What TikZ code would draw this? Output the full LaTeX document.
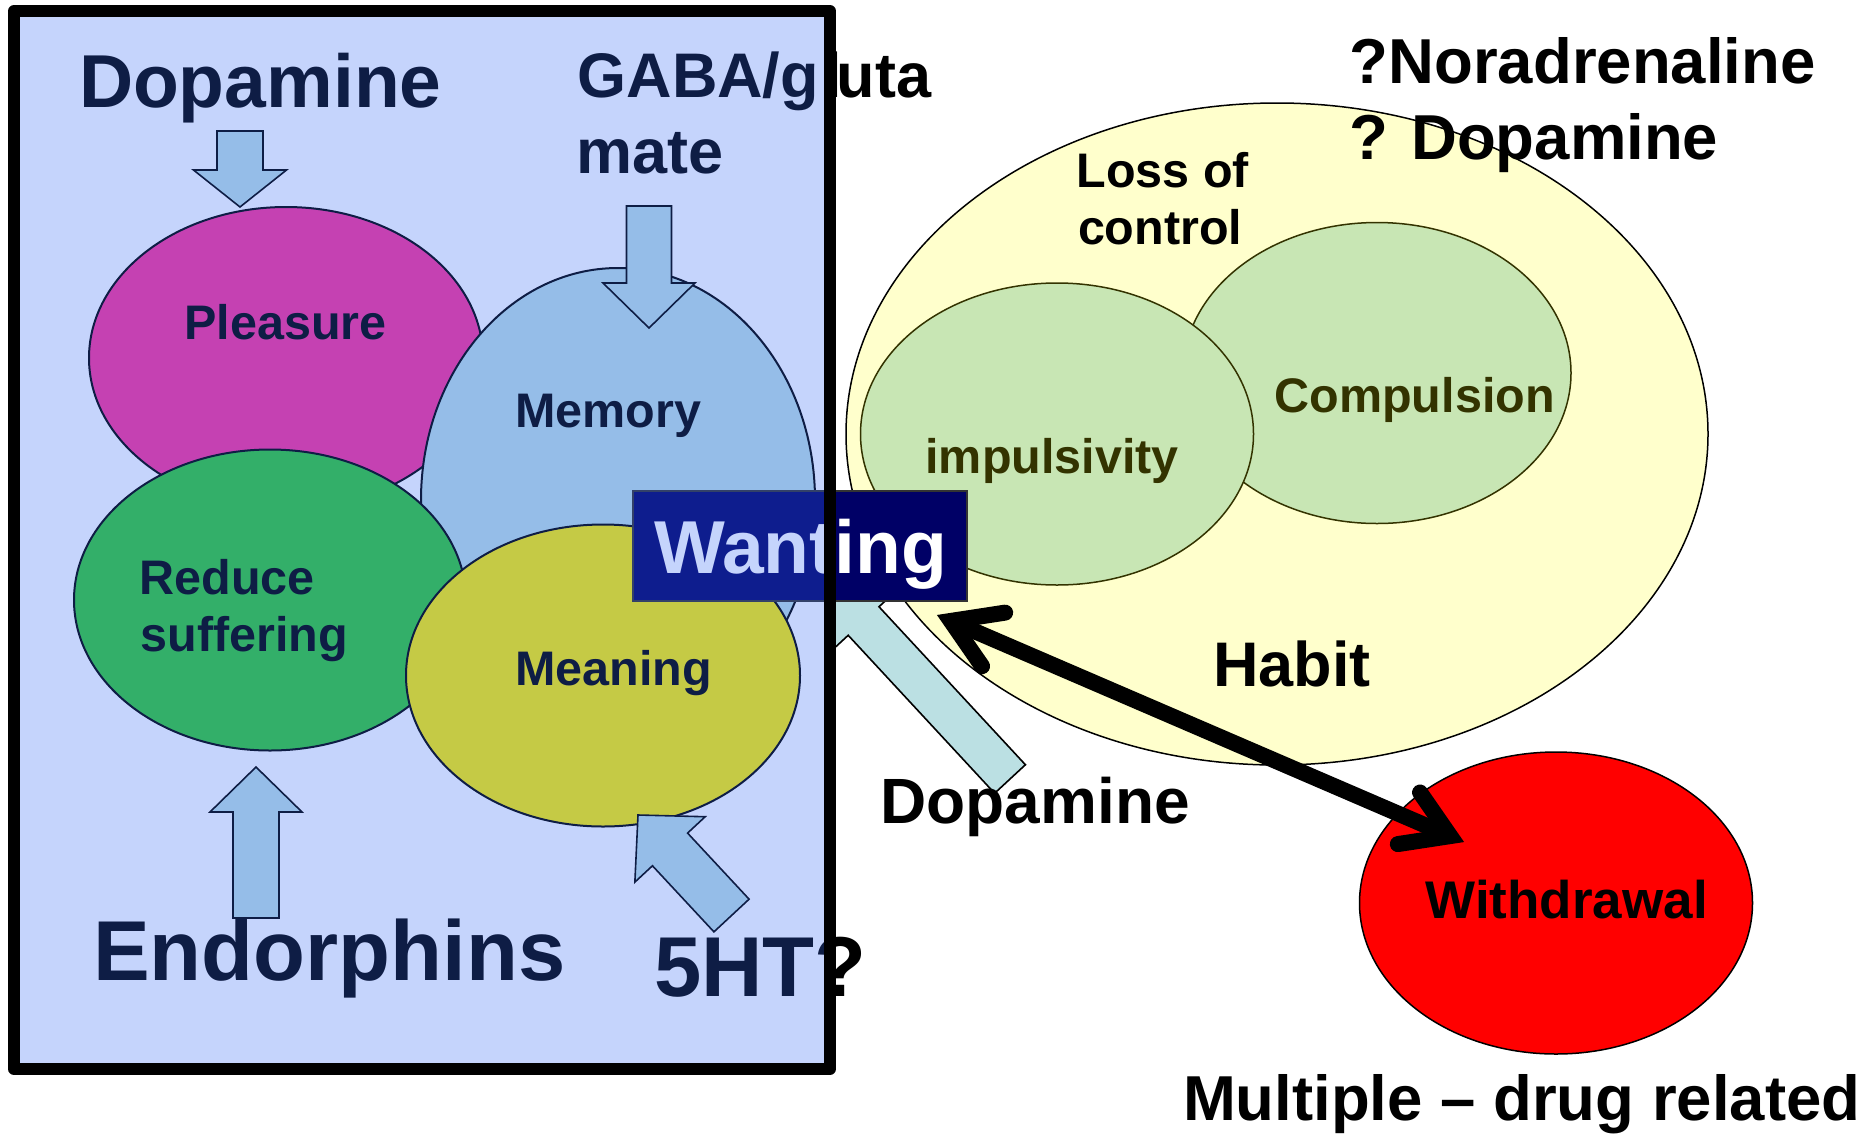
\documentclass[tikz,border=0pt]{standalone}
\usepackage{fontspec}
\setmainfont{Liberation Sans}
\usetikzlibrary{shapes.geometric,calc}

\definecolor{tintblue}{RGB}{53,103,245}
\definecolor{petal}{RGB}{255,51,153}
\definecolor{skycyan}{RGB}{187,224,227}
\definecolor{leafgreen}{RGB}{51,204,51}
\definecolor{cream}{RGB}{255,255,204}
\definecolor{mint}{RGB}{200,230,180}
\definecolor{olive}{RGB}{51,51,0}
\definecolor{deepnavy}{RGB}{0,0,102}

\tikzset{
  blob/.style={ellipse, draw=black, line width=2pt, inner sep=0pt, outer sep=0pt,
               minimum width=394pt, minimum height=302pt},
  blockarr/.style={fill=skycyan, draw=black, line width=1.6pt, line join=miter},
  txt/.style={inner sep=0pt, outer sep=0pt, anchor=base west,
              font=\bfseries\fontsize{#1}{#1}\selectfont},
  barb/.style={line width=16pt, line cap=round, line join=miter, miter limit=20},
}

% block arrow: tail centre, tip, half shaft width, half head width, head length
\newcommand{\blkarrow}[5]{%
  \coordinate (blkB) at ($(#2)!#5pt!(#1)$);
  \filldraw[blockarr] ($(#1)!#3pt!90:(#2)$) -- ($(blkB)!#3pt!90:(#2)$)
    -- ($(blkB)!#4pt!90:(#2)$) -- (#2) -- ($(blkB)!#4pt!-90:(#2)$)
    -- ($(blkB)!#3pt!-90:(#2)$) -- ($(#1)!#3pt!-90:(#2)$) -- cycle;}

\begin{document}
\begin{tikzpicture}[x=1pt,y=-1pt]
\fill[white] (0,0) rectangle (1873,1133);
\useasboundingbox (0,0) rectangle (1873,1133);

% habit cluster
\node[blob, fill=cream, line width=1.5pt, minimum width=862pt, minimum height=662pt] (habit) at (1277,434) {};
\node[blob, fill=mint, draw=olive, line width=1.5pt, minimum width=388pt, minimum height=301pt] (compulsion) at (1377,373) {};
\node[blob, fill=mint, draw=olive, line width=1.5pt, minimum width=393pt, minimum height=302pt] (impulsivity) at (1057,434) {};
\node[blob, fill=red, line width=1.5pt, minimum width=393pt, minimum height=302pt] (withdrawal) at (1556,903) {};

% reward cluster
\node[blob, fill=petal] (pleasure) at (286,358) {};
\node[blob, fill=skycyan, minimum height=464pt] (memory) at (618,500) {};
\node[blob, fill=leafgreen, minimum width=392pt, minimum height=301pt] (reduce) at (270,600) {};
\node[blob, fill=yellow] (meaning) at (603,675.5) {};

% transmitter arrows
\blkarrow{240,131}{240,207}{23}{46.5}{37}
\blkarrow{649,206}{649,328}{22.5}{46}{45}
\blkarrow{256,918}{256,767}{23}{46}{45}
\blkarrow{731.5,915.5}{638,815}{24}{48}{47}
\blkarrow{1010,779}{833,588}{21}{40}{45}

% wanting box
\node[draw=black!80, line width=1.5pt, fill=deepnavy, minimum width=334pt, minimum height=110pt,
      inner sep=0pt, outer sep=0pt] (wanting) at (800,546) {};
\node[txt=75, text=white] (wantingT) at (654,573) {Wanting};

% labels
\node[txt=75] (dopaL) at (79,107) {Dopamine};
\node[txt=63] (gaba1) at (577.5,97) {GABA/g\kern6pt l\kern-6pt uta};
\node[txt=63] (gaba2) at (576.5,173) {mate};
\node[txt=48.5] (pleasureT) at (184.5,339) {Pleasure};
\node[txt=48.5] (memoryT) at (515.5,427.5) {Memory};
\node[txt=48.5] (reduceT1) at (139.5,594.5) {Reduce};
\node[txt=48.5] (reduceT2) at (140.5,651.5) {suffering};
\node[txt=48.5] (meaningT) at (515.5,685) {Meaning};
\node[txt=85] (endo) at (93,980) {Endorphins};
\node[txt=85] (sert) at (654.2,996) {5HT?};

\node[txt=48.5] (loss1) at (1076.5,187) {Loss of};
\node[txt=48.5] (loss2) at (1078,244) {control};
\node[txt=48.5, text=olive] (compT) at (1274.5,412) {Compulsion};
\node[txt=48.5, text=olive] (impT) at (925.5,473) {impulsivity};
\node[txt=63] (habitT) at (1213,686) {Habit};
\node[txt=63.5] (nora) at (1349.8,83) {?Noradrenaline};
\node[txt=63.5] (dopaQ) at (1349,159) {? Dopamine};
\node[txt=64] (dopaR) at (880.5,823.5) {Dopamine};
\node[txt=53] (withT) at (1425.5,918.6) {Withdrawal};
\node[txt=63.5] (multi) at (1183,1120) {Multiple – drug related};

% two-headed link between wanting and withdrawal
\coordinate (tipW) at (937,615);
\coordinate (tipD) at (1464,842);
\coordinate (vW) at ($(tipW)!15pt!(tipD)$);
\coordinate (vD) at ($(tipD)!15pt!(tipW)$);
\draw[line width=16pt] (vW) -- (vD);
\draw[barb] ($(vW)!55pt!32:(vD)$) -- (vW) -- ($(vW)!55pt!-32:(vD)$);
\draw[barb] ($(vD)!53pt!32:(vW)$) -- (vD) -- ($(vD)!53pt!-32:(vW)$);

% translucent panel and its frame
\fill[tintblue, fill opacity=0.282] (14,11) rectangle (830,1069);
\draw[line width=12pt, line join=round] (14,11) rectangle (830,1069);
\end{tikzpicture}
\end{document}
